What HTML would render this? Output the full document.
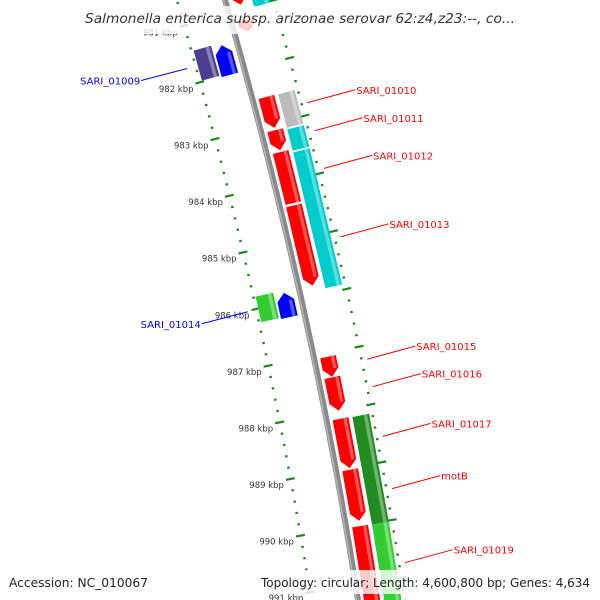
<!DOCTYPE html>
<html><head><meta charset="utf-8"><style>html,body{margin:0;padding:0;background:#fff}svg{display:block}</style></head>
<body>
<svg id="map" width="600" height="600" xmlns="http://www.w3.org/2000/svg">
<rect width="600" height="600" fill="#fff"/>
<g id="ticks"></g>
<g id="backbone"></g>
<g id="feats"></g>
<g id="labels"></g>
<rect x="0" y="6" width="600" height="28" fill="rgba(255,255,255,0.8)"/>
<text x="300" y="23" text-anchor="middle" font-family="DejaVu Sans, sans-serif" font-style="italic" font-size="13.5" fill="#333" textLength="430" lengthAdjust="spacingAndGlyphs">Salmonella enterica subsp. arizonae serovar 62:z4,z23:--, co...</text>
<rect x="0" y="570" width="600" height="24" fill="rgba(255,255,255,0.8)"/>
<text x="9" y="587" font-family="DejaVu Sans, sans-serif" font-size="12" fill="#222" textLength="139" lengthAdjust="spacingAndGlyphs">Accession: NC_010067</text>
<text x="261" y="587" font-family="DejaVu Sans, sans-serif" font-size="12" fill="#222" textLength="329" lengthAdjust="spacingAndGlyphs">Topology: circular; Length: 4,600,800 bp; Genes: 4,634</text>
</svg>
<script>
const featStart = [980.66,980.75,981.18,981.45,981.49,982.53,982.54,983.11,983.15,983.49,983.55,984.42,985.79,985.83,987.06,987.42,988.14,988.15,989.03,990.01,990.02];
const featEnd   = [980.92,981.02,981.39,981.98,982.01,983.07,983.12,983.46,983.52,984.38,985.91,985.82,986.24,986.26,987.41,988.00,989.00,990.02,989.92,991.50,991.60];
const featTrack = [1,2,1,-2,-1,1,2,1,2,1,2,1,-2,-1,1,1,1,2,1,1,2];
const featStrand= [1,0,1,0,-1,1,0,1,0,0,0,1,0,-1,1,1,1,0,1,0,0];
const featColor = ['#ff0000','#00cccc','#ff0000','#4b3d8f','#0000ff','#ff0000','#bbbbbb','#ff0000','#00cccc','#ff0000','#00cccc','#ff0000','#33cc33','#0000ff','#ff0000','#ff0000','#ff0000','#228b22','#ff0000','#ff0000','#33cc33'];
const featLabel = ['','','','SARI_01009','','SARI_01010','','SARI_01011','','SARI_01012','','SARI_01013','SARI_01014','','SARI_01015','SARI_01016','SARI_01017','','motB','SARI_01019',''];
const tickKbp = [980,981,982,983,984,985,986,987,988,989,990,991];

const NS='http://www.w3.org/2000/svg';
function bx(y){return 225+0.2882*y-0.0001109*y*y;}
function slope(y){return 0.2882-0.0002218*y;}
function yb(k){return 13+(k-981)*57.2;}
function pt(y,r){const t=Math.atan(slope(y));return [bx(y)+r*Math.cos(t), y-r*Math.sin(t)];}
function mk(tag,attrs,parent){const e=document.createElementNS(NS,tag);for(const k in attrs)e.setAttribute(k,attrs[k]);parent.appendChild(e);return e;}
function poly(pts){return pts.map(p=>p[0].toFixed(1)+','+p[1].toFixed(1)).join(' ');}
function lighten(c,f){const n=parseInt(c.slice(1),16);let r=n>>16,g=(n>>8)&255,b=n&255;r=Math.round(r+(255-r)*f);g=Math.round(g+(255-g)*f);b=Math.round(b+(255-b)*f);return 'rgb('+r+','+g+','+b+')';}

// backbone
const bb=document.getElementById('backbone');
let d='';for(let y=-10;y<=610;y+=5){const p=pt(y,0);d+=(y===-10?'M':'L')+p[0].toFixed(1)+','+p[1].toFixed(1);}
const b1=mk('path',{d:d,stroke:'#8a8a8a','stroke-width':6,fill:'none'},bb);


let d2='';for(let y=-10;y<=610;y+=5){const p=pt(y,-1.5);d2+=(y===-10?'M':'L')+p[0].toFixed(1)+','+p[1].toFixed(1);}
const b2=mk('path',{d:d2,stroke:'#b5b5b5','stroke-width':1.5,fill:'none'},bb);



// ticks
const tg=document.getElementById('ticks');
for(let k=979.8;k<=991.6;k+=0.2){
  const kr=Math.round(k*10)/10;const major=Math.abs(kr-Math.round(kr))<0.01;
  const y=yb(kr);
  [-1,1].forEach(s=>{
    const a=pt(y,s*(major?42:45)),b=pt(y,s*(major?51:47.5));
    const l=mk('line',{x1:a[0],y1:a[1],x2:b[0],y2:b[1],stroke:'#1a8a1a','stroke-width':2.2},tg);
    
    
  });
}
tickKbp.forEach(k=>{
  const y=yb(k);const p=pt(y,-52);
  const t=mk('text',{x:p[0]-1,y:p[1]+8,'text-anchor':'end','font-family':'DejaVu Sans, sans-serif','font-size':'8.5',fill:'#333'},tg);
  t.textContent=k+' kbp';
  
  
});

// features
const fg=document.getElementById('feats'),lg=document.getElementById('labels');
const trackR={1:[6,22],2:[26,43],'-1':[-24,-7],'-2':[-44,-26]};
featStart.forEach((s,i)=>{
  const y1=yb(s),y2=yb(featEnd[i]);const [r1,r2]=trackR[featTrack[i]];const rm=(r1+r2)/2;
  const st=featStrand[i];const ah=Math.min(8,(y2-y1)*0.5);
  let pts;
  if(st===1)pts=[pt(y1,r1),pt(y1,r2),pt(y2-ah,r2),pt(y2,rm),pt(y2-ah,r1)];
  else if(st===-1)pts=[pt(y1,rm),pt(y1+ah,r2),pt(y2,r2),pt(y2,r1),pt(y1+ah,r1)];
  else pts=[pt(y1,r1),pt(y1,r2),pt(y2,r2),pt(y2,r1)];
  const g=mk('g',{},fg);
  
  
  mk('polygon',{points:poly(pts),fill:featColor[i]},g);
  const ya=st===-1?y1+ah:y1, yz=st===1?y2-ah:y2;
  const w=r2-r1;
  mk('polygon',{points:poly([pt(ya,r1+w*0.68),pt(ya,r1+w*0.88),pt(yz,r1+w*0.88),pt(yz,r1+w*0.68)]),fill:lighten(featColor[i],0.35)},g);
  if(featLabel[i]){
    const ym=(y1+y2)/2;
    const right=featTrack[i]>0;
    const a=pt(ym,right?52:-55);
    const b=right?[a[0]+48,a[1]-13]:[a[0]-46,a[1]+12];
    const col=right?'#ff0000':'#0000ff';
    const l=mk('line',{x1:a[0],y1:a[1],x2:b[0],y2:b[1],stroke:col,'stroke-width':1},lg);
    
    
    const t=mk('text',{x:right?b[0]+1:b[0]-1,y:b[1]+4,'text-anchor':right?'start':'end','font-family':'DejaVu Sans, sans-serif','font-size':'10',fill:col},lg);
    t.textContent=featLabel[i];
    
    
  }
});
</script>
</body></html>
